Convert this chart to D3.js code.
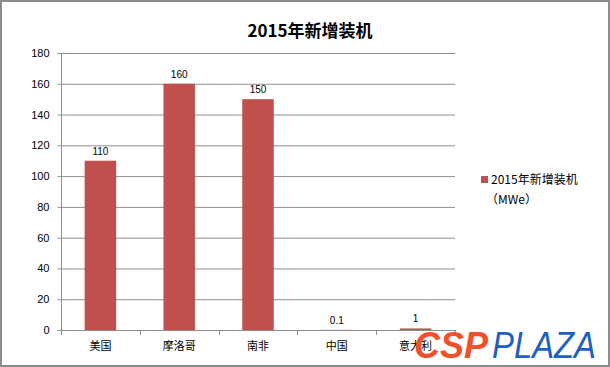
<!DOCTYPE html>
<html><head><meta charset="utf-8">
<script src="https://cdn.jsdelivr.net/npm/d3@7"></script>
<style>body{margin:0;background:#fff}svg{display:block}</style>
</head><body>
<script>
const categories = ["美国","摩洛哥","南非","中国","意大利"];
const values = [110,160,150,0.1,1];
const valueLabels = ["110","160","150","0.1","1"];
const yTicks = [0,20,40,60,80,100,120,140,160,180];
const title = "2015年新增装机";
const legendLines = ["2015年新增装机","（MWe）"];

const W=610,H=367;
const svg=d3.select("body").append("svg").attr("width",W).attr("height",H);
svg.append("rect").attr("x",1).attr("y",1).attr("width",W-2).attr("height",H-2)
  .attr("fill","#fff").attr("stroke","#8c8c8c").attr("stroke-width",2);

const font="'Noto Sans CJK SC','Microsoft YaHei',sans-serif";
const x=d3.scaleBand().domain(categories).range([61,455]).paddingInner(0.6).paddingOuter(0.3);
const xb=d3.scaleBand().domain(categories).range([61,455]);
const y=d3.scaleLinear().domain([0,180]).range([330,53]);

// grid
svg.append("g").selectAll("line").data(yTicks.filter(d=>d>0)).join("line")
  .attr("x1",61).attr("x2",455).attr("y1",d=>y(d)+0.5).attr("y2",d=>y(d)+0.5)
  .attr("stroke","#8e8e8e").attr("stroke-width",1);

// y axis
const ya=svg.append("g").attr("transform","translate(61.5,0)")
  .call(d3.axisLeft(y).tickValues(yTicks).tickSize(4).tickPadding(8));
ya.select(".domain").attr("stroke","#8e8e8e").attr("d","M0,53V330.5");
ya.selectAll(".tick line").attr("stroke","#8e8e8e");
ya.selectAll(".tick").attr("transform",d=>`translate(0,${y(d)+0.5})`);
ya.selectAll("text").attr("font-family","Arial,'Liberation Sans',sans-serif").attr("font-size",11).attr("fill","#000");

// x axis
const xa=svg.append("g").attr("transform","translate(0,330.5)")
  .call(d3.axisBottom(xb).tickSize(0).tickPadding(12));
xa.select(".domain").attr("stroke","#8e8e8e").attr("d","M61,0H455");
xa.selectAll("text").attr("font-family",font).attr("font-size",11).attr("fill","#000");
svg.append("g").selectAll("line").data(d3.range(categories.length+1)).join("line")
  .attr("x1",i=>Math.round(61+i*xb.bandwidth())+0.5).attr("x2",i=>Math.round(61+i*xb.bandwidth())+0.5)
  .attr("y1",330).attr("y2",335).attr("stroke","#8e8e8e");

// bars
svg.append("g").selectAll("rect").data(values).join("rect")
  .attr("x",(d,i)=>x(categories[i])).attr("width",x.bandwidth())
  .attr("y",d=>y(d)).attr("height",d=>Math.max(0,y(0)-y(d)))
  .attr("fill","#c0504d");

// labels
svg.append("g").selectAll("text").data(values).join("text")
  .attr("x",(d,i)=>x(categories[i])+x.bandwidth()/2).attr("y",d=>y(d)-6)
  .attr("text-anchor","middle").attr("font-family","Arial,'Liberation Sans',sans-serif")
  .attr("font-size",10).attr("fill","#000").text((d,i)=>valueLabels[i]);

// title
svg.append("text").attr("x",310).attr("y",37).attr("text-anchor","middle")
  .attr("font-family",font).attr("font-weight","bold").attr("font-size",17).text(title);

// legend
svg.append("rect").attr("x",481).attr("y",176).attr("width",7).attr("height",7).attr("fill","#c0504d");
svg.append("g").selectAll("text").data(legendLines).join("text")
  .attr("x",(d,i)=>i===0?491:486).attr("y",(d,i)=>184+i*20)
  .attr("font-family",font).attr("font-size",12).attr("fill","#000").text(d=>d);

// watermark
const wmFont="'Liberation Sans',Arial,sans-serif";
svg.append("text").attr("x",414).attr("y",358).attr("font-family",wmFont)
  .attr("font-style","italic").attr("font-weight","900").attr("font-size",36)
  .attr("textLength",74).attr("lengthAdjust","spacingAndGlyphs")
  .attr("fill","#f0502a").text("CSP");
svg.append("text").attr("x",492).attr("y",358).attr("font-family",wmFont)
  .attr("font-style","italic").attr("font-weight","normal").attr("font-size",36)
  .attr("textLength",104).attr("lengthAdjust","spacingAndGlyphs")
  .attr("fill","#1f5fbf").text("PLAZA");
</script>
</body></html>
